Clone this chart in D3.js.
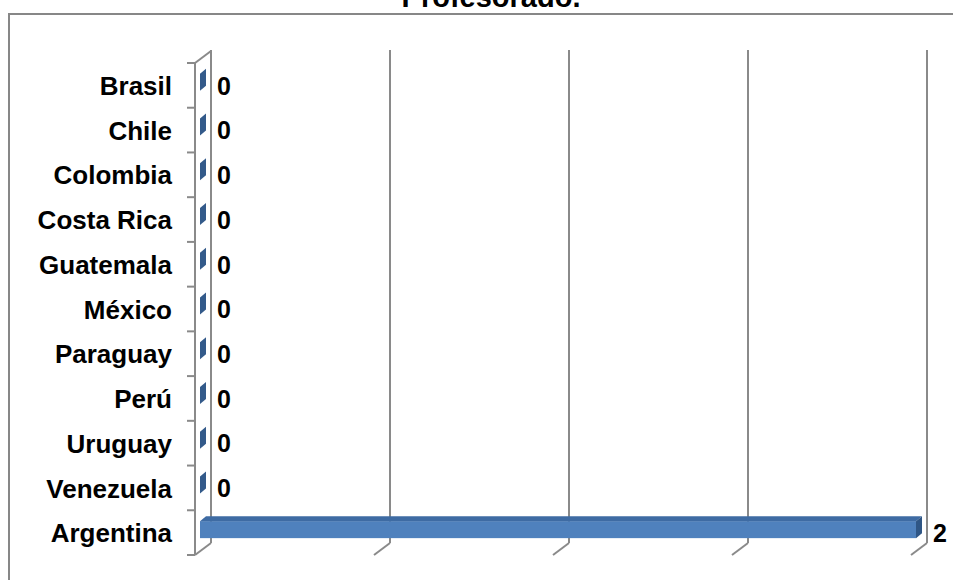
<!DOCTYPE html>
<html lang="es">
<head>
    <meta charset="UTF-8">
    <title>Profesorado.</title>
    <script src="https://d3js.org/d3.v7.min.js"></script>
    <style>
        html, body { margin: 0; padding: 0; background: #fff; }
        svg { display: block; }
        text { font-family: "Liberation Sans", Arial, sans-serif; font-weight: bold; fill: #000; }
    </style>
</head>
<body>
<div id="chart"></div>
<script>
    // data
    const title = 'Profesorado.';
    const countries = ['Brasil', 'Chile', 'Colombia', 'Costa Rica', 'Guatemala', 'México',
                       'Paraguay', 'Perú', 'Uruguay', 'Venezuela', 'Argentina'];
    const values = [0, 0, 0, 0, 0, 0, 0, 0, 0, 0, 2];
    const xTicks = [0, 0.5, 1, 1.5, 2];

    const W = 953, H = 580;
    const depthX = 16, depthY = -12;   // 3D offset of the back wall
    const barDx = 6, barDy = -5;       // 3D depth of a bar
    const grid = '#8a8a8a';

    const svg = d3.select('#chart').append('svg')
        .attr('width', W).attr('height', H);

    // outer chart border (runs off the right and bottom edges)
    svg.append('rect')
        .attr('x', 9).attr('y', 14)
        .attr('width', 980).attr('height', 600)
        .attr('fill', 'none').attr('stroke', '#878787').attr('stroke-width', 2);

    svg.append('text')
        .attr('x', 491).attr('y', 7)
        .attr('text-anchor', 'middle')
        .style('font-size', '29px')
        .text(title);

    // scales: x on the back wall, y on the front of the left wall
    const x = d3.scaleLinear().domain([0, 2]).range([211, 927]);
    const y = d3.scaleBand().domain(countries).range([63, 555]);

    const frontY = y.range()[1];
    const backY = frontY + depthY;
    const topY = 50;

    // back wall gridlines
    svg.append('g').selectAll('line')
        .data(xTicks).enter().append('line')
        .attr('x1', d => x(d)).attr('x2', d => x(d))
        .attr('y1', topY).attr('y2', backY)
        .attr('stroke', grid).attr('stroke-width', 2);

    // floor ticks (diagonals)
    svg.append('g').selectAll('line')
        .data(xTicks).enter().append('line')
        .attr('x1', d => x(d) - depthX).attr('y1', frontY)
        .attr('x2', d => x(d)).attr('y2', backY)
        .attr('stroke', grid).attr('stroke-width', 2);

    // left wall: front edge and top edge
    const fx = x(0) - depthX;
    svg.append('line')
        .attr('x1', fx).attr('x2', fx)
        .attr('y1', y.range()[0]).attr('y2', frontY)
        .attr('stroke', grid).attr('stroke-width', 2);
    svg.append('line')
        .attr('x1', fx).attr('y1', y.range()[0])
        .attr('x2', x(0)).attr('y2', y.range()[0] + depthY)
        .attr('stroke', grid).attr('stroke-width', 2);

    // category tick marks
    const bounds = countries.map(c => y(c)).concat([frontY]);
    svg.append('g').selectAll('line')
        .data(bounds).enter().append('line')
        .attr('x1', fx - 8).attr('x2', fx)
        .attr('y1', d => d).attr('y2', d => d)
        .attr('stroke', grid).attr('stroke-width', 2);

    // category labels
    svg.append('g').selectAll('text')
        .data(countries).enter().append('text')
        .attr('x', 172)
        .attr('y', d => y(d) + y.bandwidth() / 2)
        .attr('dy', '0.37em')
        .attr('text-anchor', 'end')
        .style('font-size', '26px')
        .text(d => d);

    // 3D bars
    const barH = 17;
    const bars = svg.append('g').selectAll('g')
        .data(countries.map((c, i) => ({ c, v: values[i] })))
        .enter().append('g');

    const geo = d => {
        const x0 = x(0) - 11, x1 = x(d.v) - 11;
        const cy = y(d.c) + y.bandwidth() / 2 - 3;
        return { x0, x1, y0: cy - barH / 2, y1: cy + barH / 2 };
    };

    bars.filter(d => d.v > 0).append('rect')
        .attr('x', d => geo(d).x0).attr('y', d => geo(d).y0)
        .attr('width', d => geo(d).x1 - geo(d).x0).attr('height', barH)
        .attr('fill', '#4f81bd');

    bars.filter(d => d.v > 0).append('path')
        .attr('d', d => {
            const g = geo(d);
            return `M${g.x0},${g.y0}L${g.x1},${g.y0}L${g.x1 + barDx},${g.y0 + barDy}L${g.x0 + barDx},${g.y0 + barDy}Z`;
        })
        .attr('fill', '#3e6ba3');

    bars.append('path')
        .attr('d', d => {
            const g = geo(d);
            return `M${g.x1},${g.y0}L${g.x1 + barDx},${g.y0 + barDy}L${g.x1 + barDx},${g.y1 + barDy}L${g.x1},${g.y1}Z`;
        })
        .attr('fill', d => d.v > 0 ? '#2f5685' : '#335a8a');

    // value labels
    bars.append('text')
        .attr('x', d => x(d.v) + 6)
        .attr('y', d => y(d.c) + y.bandwidth() / 2)
        .attr('dy', '0.37em')
        .style('font-size', '25px')
        .text(d => d.v);
</script>
</body>
</html>
